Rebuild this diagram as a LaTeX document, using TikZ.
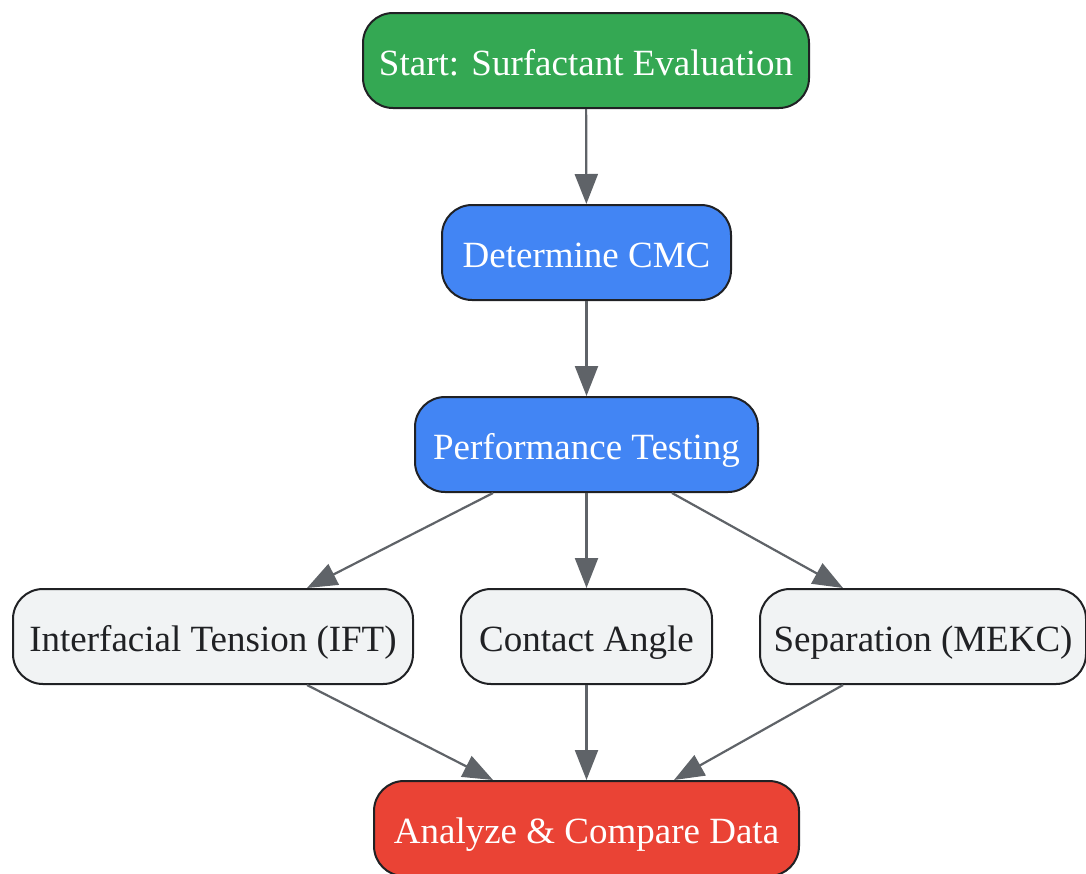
\documentclass[tikz,border=0pt]{standalone}
\usepackage{fontspec}
\setmainfont{Liberation Serif}
\usetikzlibrary{arrows.meta}
\definecolor{gGreen}{HTML}{34A853}
\definecolor{gBlue}{HTML}{4285F4}
\definecolor{gRed}{HTML}{EA4335}
\definecolor{gGray}{HTML}{F1F3F4}
\definecolor{gDark}{HTML}{202124}
\definecolor{gArrow}{HTML}{5F6368}
\begin{document}
\begin{tikzpicture}[x=1pt,y=-1pt,
  box/.style={draw=gDark, line width=2pt, rounded corners=30pt, minimum height=95pt, inner sep=0pt, text height=30pt, text depth=0pt, font=\fontsize{37}{44}\selectfont},
  colbox/.style={box, text=white},
  graybox/.style={box, fill=gGray, text=gDark},
  conn/.style={draw=gArrow, line width=2.2pt, -{Triangle[length=30pt,width=23pt]}}]
\useasboundingbox (0,0) rectangle (1086,873);
\node[colbox, fill=gGreen, minimum width=446pt] (start) at (586,60.5) {Start: Surfactant Evaluation};
\node[colbox, fill=gBlue, minimum width=289pt] (cmc) at (586.5,252.5) {Determine CMC};
\node[colbox, fill=gBlue, minimum width=343pt] (perf) at (586.5,444.5) {Performance Testing};
\node[graybox, minimum width=400pt] (ift) at (213,636.5) {Interfacial Tension (IFT)};
\node[graybox, minimum width=251pt] (ca) at (586.5,636.5) {Contact Angle};
\node[graybox, minimum width=326pt] (sep) at (923,636.5) {Separation (MEKC)};
\node[colbox, fill=gRed, minimum width=425pt] (ana) at (586.5,828.5) {Analyze \& Compare Data};
\draw[conn] (start) -- (cmc);
\draw[conn] (cmc) -- (perf);
\draw[conn] ([xshift=-93.5pt]perf.south) -- ([xshift=94pt]ift.north);
\draw[conn] (perf) -- (ca);
\draw[conn] ([xshift=85.5pt]perf.south) -- ([xshift=-80pt]sep.north);
\draw[conn] ([xshift=94pt]ift.south) -- ([xshift=-93.5pt]ana.north);
\draw[conn] (ca) -- (ana);
\draw[conn] ([xshift=-80pt]sep.south) -- ([xshift=87.5pt]ana.north);
\end{tikzpicture}
\end{document}
